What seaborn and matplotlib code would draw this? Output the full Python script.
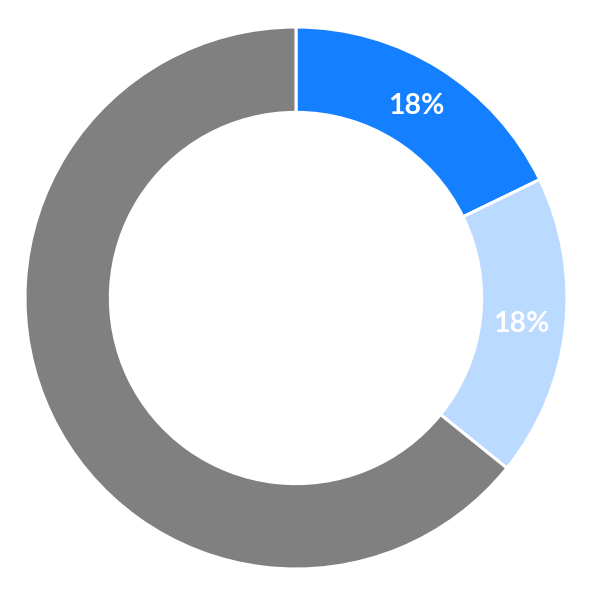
import seaborn as sns
import matplotlib.pyplot as plt
import numpy as np

sns.set_theme(style="white")
plt.rcParams['font.family'] = ['Lato', 'DejaVu Sans']

labels = ["A", "B", "C"]
values = [17.8, 18.0, 64.2]
shown = ["18%", "18%", ""]
colors = ["#1580FF", "#BADAFF", "#808080"]

fig = plt.figure(figsize=(5.92, 5.99), dpi=100)
ax = fig.add_axes([0, 0, 1, 1])

wedges, _ = ax.pie(
    values,
    colors=colors,
    startangle=90,
    counterclock=False,
    radius=1.0,
    wedgeprops=dict(width=0.315, edgecolor="white", linewidth=2.2),
)

# put the percent labels on the ring
theta = 90.0
total = sum(values)
for v, txt in zip(values, shown):
    span = 360.0 * v / total
    mid = np.deg2rad(theta - span / 2)
    theta -= span
    if txt:
        ax.text(0.835 * np.cos(mid), 0.835 * np.sin(mid), txt,
                ha="center", va="center", color="white",
                fontsize=20.5, fontweight="bold")

r = 271.0
ax.set_xlim(-296 / r, (592 - 296) / r)
ax.set_ylim(-(599 - 298) / r, 298 / r)
ax.set_aspect("auto")
ax.axis("off")

plt.savefig("out.png", dpi=100)
plt.close()
